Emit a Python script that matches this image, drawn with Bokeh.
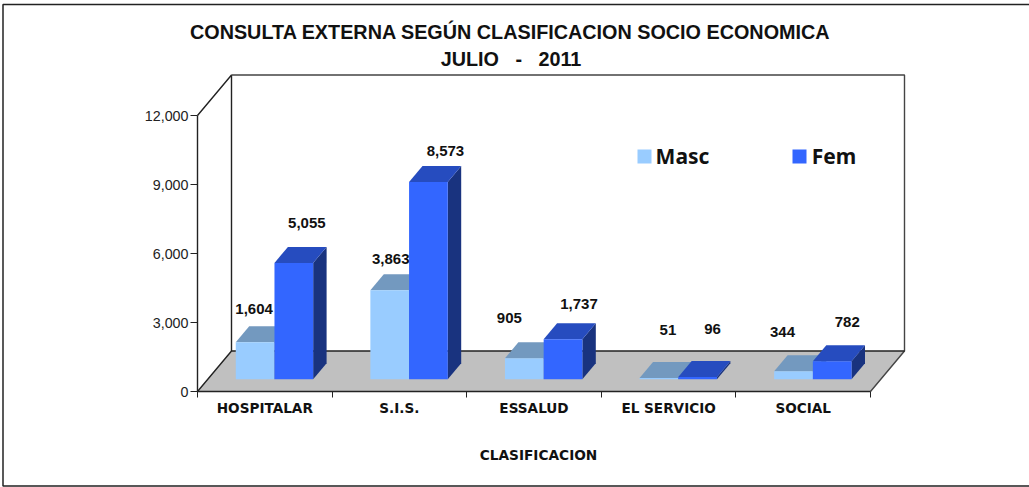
from bokeh.plotting import figure
from bokeh.models import Range1d, FixedTicker, BoxAnnotation, Label, ColumnDataSource, LinearAxis
from bokeh.core.properties import value
from bokeh.embed import file_html
from bokeh.resources import INLINE

categories = ["HOSPITALAR", "S.I.S.", "ESSALUD", "EL SERVICIO", "SOCIAL"]
masc = [1604, 3863, 905, 51, 344]
fem = [5055, 8573, 1737, 96, 782]
y_ticks = [0, 3000, 6000, 9000, 12000]
title_1 = "CONSULTA EXTERNA SEGÚN CLASIFICACION SOCIO ECONOMICA"
title_2 = "JULIO \u00a0\u00a0-\u00a0\u00a0 2011"
x_title = "CLASIFICACION"
series_names = ["Masc", "Fem"]

# value-label offsets (px) from the bar's top front centre
masc_off = [(-1, 33), (1, 31), (-15, 40), (9, 48), (-11, 39)]
fem_off = [(13, 40), (17, 31), (16, 35), (15, 48), (15, 39)]

# page-to-data geometry
PX_L, PX_B = 197.0, 391.0
PX_CAT = 134.6
PX_VAL = 276.0 / 12000
DX, DY = 34.0, 40.5  # full depth of the chart box in px
Z0, Z1 = 0.305, 0.70  # bar depth
BAR = 38.7 / PX_CAT
BAR_SHIFT = -0.7 / PX_CAT


def X(px):
    return (px - PX_L) / PX_CAT


def Y(py):
    return (PX_B - py) / PX_VAL


dx, dy = DX / PX_CAT, DY / PX_VAL

p = figure(
    width=1029, height=487, output_backend="svg", toolbar_location=None,
    x_range=Range1d(X(0), X(1029)), y_range=Range1d(Y(487), Y(0)),
    min_border=0, x_axis_location=None, y_axis_location=None,
    outline_line_color=None, background_fill_color="white", border_fill_color="white",
    styles={"position": "absolute", "left": "0px", "top": "0px"},
)
p.grid.visible = False

# floor
n = len(categories)
top = y_ticks[-1]
p.patch([0, n, n + dx, dx], [0, 0, dy, dy], fill_color="#C0C0C0", line_color=None)
# walls
LINE = "#222222"
p.line([0, dx, dx], [top, top + dy, dy], line_color=LINE, line_width=1.4)
p.line([dx, n + dx, n + dx, n], [top + dy, top + dy, dy, 0], line_color="#444444", line_width=1.4)
p.line([0, dx, n + dx], [0, dy, dy], line_color=LINE, line_width=1.4)


def bar(i, k, v, front, top_c, side):
    left = i + (1 - 2 * BAR) / 2 + k * BAR + Z0 * dx + BAR_SHIFT
    right = left + BAR
    base = Z0 * dy
    d_x, d_y = (Z1 - Z0) * dx, (Z1 - Z0) * dy
    h = v + base
    p.patch([right, right + d_x, right + d_x, right], [base, base + d_y, h + d_y, h], fill_color=side, line_color=None)
    p.patch([left, right, right + d_x, left + d_x], [h, h, h + d_y, h + d_y], fill_color=top_c, line_color=None)
    p.patch([left, right, right, left], [base, base, h, h], fill_color=front, line_color=None)
    return (left + right) / 2, h


label_x, label_y, label_t, off_x, off_y = [], [], [], [], []
for i in range(n):
    for k, (vals, offs, cols) in enumerate([
        (masc, masc_off, ("#99CCFF", "#7399BF", "#4C667F")),
        (fem, fem_off, ("#3366FF", "#264CBF", "#19337F")),
    ]):
        cx, cy = bar(i, k, vals[i], *cols)
        label_x.append(cx)
        label_y.append(cy)
        label_t.append(f"{vals[i]:,}")
        off_x.append(offs[i][0])
        off_y.append(-offs[i][1])

src = ColumnDataSource(dict(x=label_x, y=label_y, t=label_t, ox=off_x, oy=off_y))
p.text("x", "y", text="t", x_offset="ox", y_offset="oy", source=src, text_align="center", text_baseline="middle",
       text_font=value("Liberation Sans"), text_font_size="15px", text_font_style="bold", text_color="#111111")

# axes
yax = LinearAxis(fixed_location=0, bounds=(0, top), ticker=FixedTicker(ticks=y_ticks),
                 major_label_overrides={t: f"{t:,}" for t in y_ticks})
yax.major_tick_in = 0
yax.major_tick_out = 7
yax.minor_tick_line_color = None
yax.axis_line_color = LINE
yax.axis_line_width = 1.4
yax.major_tick_line_color = LINE
yax.major_tick_line_width = 1.2
yax.major_label_standoff = 2
yax.major_label_text_font = "Liberation Sans"
yax.major_label_text_font_size = "14.3px"
yax.major_label_text_color = "#222222"
p.add_layout(yax, "left")

xax = LinearAxis(fixed_location=0, bounds=(0, n),
                 ticker=FixedTicker(ticks=[i + 0.5 for i in range(n)], minor_ticks=list(range(n + 1))),
                 major_label_overrides={i + 0.5: c for i, c in enumerate(categories)})
xax.major_tick_line_color = None
xax.major_tick_in = 0
xax.major_tick_out = 0
xax.minor_tick_in = 0
xax.minor_tick_out = 6
xax.minor_tick_line_color = LINE
xax.axis_line_color = LINE
xax.axis_line_width = 1.4
xax.major_label_standoff = 2
xax.major_label_text_font = "DejaVu Sans"
xax.major_label_text_font_size = "13.6px"
xax.major_label_text_font_style = "bold"
xax.major_label_text_color = "#111111"
p.add_layout(xax, "below")


def lab(text, px, py, size, font="Liberation Sans"):
    p.add_layout(Label(x=X(px), y=Y(py), text=text, text_align="center",
                       text_baseline="middle", text_font=font, text_font_size=size, text_font_style="bold",
                       text_color="#111111"))


lab(title_1, 510, 31, "19.8px")
lab(title_2, 510.5, 58, "19.8px")
lab(x_title, 538, 454, "13.7px", "DejaVu Sans")

# legend
for name, col, sq, tx in zip(series_names, ["#99CCFF", "#3366FF"], [644, 799], [682, 833.5]):
    p.scatter([X(sq)], [Y(156)], marker="square", size=14, fill_color=col, line_color=None)
    lab(name, tx, 155, "21px", "Noto Sans")

# outer border
p.add_layout(BoxAnnotation(left=X(2.5), right=X(1040), top=Y(4), bottom=Y(485.5), fill_color=None, fill_alpha=0,
                           line_color="#222222", line_width=1.5, line_alpha=1))

open("out.html", "w").write(file_html(p, INLINE))
